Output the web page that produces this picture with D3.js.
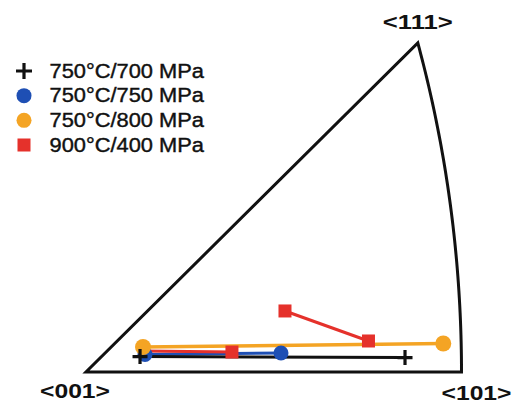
<!DOCTYPE html>
<html>
<head>
<meta charset="utf-8">
<script src="https://cdn.jsdelivr.net/npm/d3@7"></script>
<style>
  html, body { margin: 0; padding: 0; background: #fff; }
  svg { display: block; }
</style>
</head>
<body>
<script>
// Inverse pole figure (stereographic standard triangle) with grain orientation shifts.
// Coordinates are stereographic projections: X = u/(1+w), Y = v/(1+w).

const cornerLabels = ["<001>", "<101>", "<111>"];
const seriesNames = ["750°C/700 MPa", "750°C/750 MPa", "750°C/800 MPa", "900°C/400 MPa"];
const seriesColors = ["#111111", "#1e4fb4", "#f4a424", "#e5312b"];
const seriesMarkers = ["plus", "circle", "circle", "square"];

// orientation paths per condition (each inner array is one connected track)
const tracks700 = [[[0.0596, 0.0172], [0.3519, 0.0161]]];
const tracks750 = [[[0.0651, 0.0195], [0.2151, 0.0211]]];
const tracks800 = [[[0.0629, 0.0278], [0.3941, 0.0317]]];
const tracks400 = [
  [[0.0640, 0.0234], [0.1610, 0.0222]],
  [[0.2195, 0.0679], [0.3116, 0.0345]]
];
// which points of each track carry a marker
const marked700 = [[0, 1]];
const marked750 = [[0, 1]];
const marked800 = [[0, 1]];
const marked400 = [[1], [0, 1]];

const W = 513, H = 409;
const svg = d3.select("body").append("svg").attr("width", W).attr("height", H);

const x101 = Math.SQRT2 - 1;          // tan(22.5°)
const y111 = 1 / (Math.sqrt(3) + 1);  // [111] projection
const x = d3.scaleLinear().domain([0, x101]).range([86, 461.5]);
const y = d3.scaleLinear().domain([0, y111]).range([372, 43]);

// triangle boundary: two straight edges and the [101]-[111] great-circle arc
const arc = d3.range(0, 1.0001, 0.02).map(t => {
  const n = Math.sqrt(2 + t * t);
  return [1 / (n + 1), t / (n + 1)];
});
const boundary = [[0, 0], ...arc, [0, 0]];
svg.append("path")
  .attr("d", d3.line().x(d => x(d[0])).y(d => y(d[1]))(boundary) + "Z")
  .attr("fill", "none")
  .attr("stroke", "#111")
  .attr("stroke-width", 3)
  .attr("stroke-linejoin", "miter");

// corner labels
const labelFont = "'Liberation Sans', Arial, sans-serif";
const cornerPos = [[0, 0], [x101, 0], [y111, y111]];
const cornerOff = [[-11, 26], [15, 28], [0, -14]];
svg.selectAll("text.corner").data(cornerLabels).join("text")
  .attr("class", "corner")
  .attr("x", (d, i) => x(cornerPos[i][0]) + cornerOff[i][0])
  .attr("y", (d, i) => y(cornerPos[i][1]) + cornerOff[i][1])
  .attr("text-anchor", "middle")
  .attr("font-family", labelFont)
  .attr("font-weight", "bold")
  .attr("font-size", 19.5)
  .attr("textLength", 70)
  .attr("lengthAdjust", "spacingAndGlyphs")
  .attr("fill", "#111")
  .text(d => d);

const allTracks = [tracks700, tracks750, tracks800, tracks400];
const allMarked = [marked700, marked750, marked800, marked400];
const line = d3.line().x(d => x(d[0])).y(d => y(d[1]));
const lineWidths = [3, 3, 3.5, 3];

// drawing order: blue, black, orange, red lines
const lineOrder = [1, 0, 2, 3];
lineOrder.forEach(s => {
  allTracks[s].forEach(tr => {
    svg.append("path")
      .attr("d", line(tr))
      .attr("fill", "none")
      .attr("stroke", seriesColors[s])
      .attr("stroke-width", lineWidths[s]);
  });
});

function drawMarker(g, kind, cx, cy, color, size) {
  if (kind === "plus") {
    const h = size / 2;
    g.append("path")
      .attr("d", `M${cx - h},${cy}H${cx + h}M${cx},${cy - h}V${cy + h}`)
      .attr("stroke", color).attr("stroke-width", 3.2).attr("fill", "none");
  } else if (kind === "circle") {
    g.append("circle").attr("cx", cx).attr("cy", cy).attr("r", size / 2).attr("fill", color);
  } else {
    g.append("rect").attr("x", cx - size / 2).attr("y", cy - size / 2)
      .attr("width", size).attr("height", size).attr("fill", color);
  }
}

const markerSizes = [15, 15, 16, 13];
const markerOrder = [1, 2, 3, 0];
const markG = svg.append("g");
markerOrder.forEach(s => {
  allTracks[s].forEach((tr, ti) => {
    allMarked[s][ti].forEach(pi => {
      const p = tr[pi];
      drawMarker(markG, seriesMarkers[s], x(p[0]), y(p[1]), seriesColors[s], markerSizes[s]);
    });
  });
});

// legend
const legendY = d3.scaleLinear().domain([0, 3]).range([77.5, 151.5]);
const legendMarkSizes = [16, 15, 15, 13];
const lg = svg.append("g");
seriesNames.forEach((name, i) => {
  drawMarker(lg, seriesMarkers[i], 24, legendY(i) - 6.5, seriesColors[i], legendMarkSizes[i]);
  lg.append("text")
    .attr("x", 49.5)
    .attr("y", legendY(i))
    .attr("font-family", labelFont)
    .attr("font-size", 19.5)
    .attr("textLength", 154.5)
    .attr("lengthAdjust", "spacingAndGlyphs")
    .attr("fill", "#111")
    .attr("stroke", "#111")
    .attr("stroke-width", 0.4)
    .text(name);
});
</script>
</body>
</html>
